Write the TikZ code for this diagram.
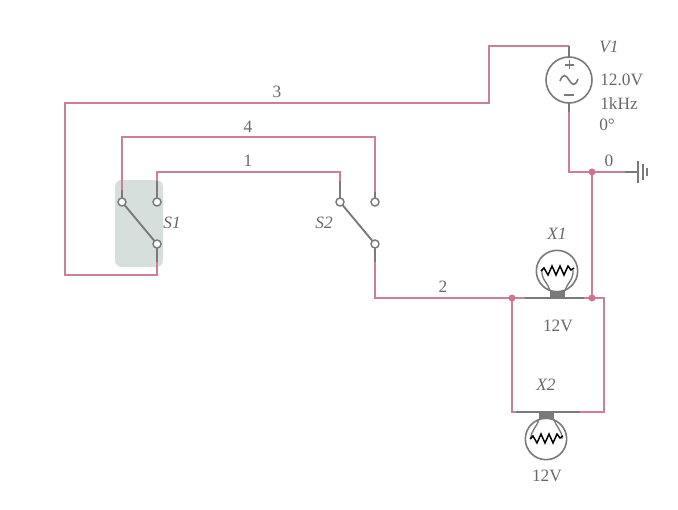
\documentclass[tikz,border=0pt]{standalone}
\usepackage{fontspec}
\setmainfont{Liberation Serif}
\definecolor{wirepink}{RGB}{203,128,150}
\definecolor{compgray}{RGB}{122,122,122}
\definecolor{labelgray}{RGB}{105,105,105}
\definecolor{panelgray}{RGB}{214,223,220}
\tikzset{
  wire/.style={draw=wirepink,line width=1.6pt},
  stub/.style={draw=compgray,line width=1.4pt},
  term/.style={circle,draw=compgray,line width=1.1pt,fill=white,inner sep=0pt,minimum size=6pt},
  junction/.style={circle,fill=wirepink!90!red,inner sep=0pt,minimum size=5.2pt},
  lamp/.style={circle,draw=compgray,line width=1.2pt,fill=white,inner sep=0pt,minimum size=31pt},
  source/.style={circle,draw=compgray,line width=1.2pt,fill=white,inner sep=0pt,minimum size=34.5pt},
  lbl/.style={text=labelgray,font=\fontsize{13pt}{15pt}\selectfont,inner sep=0pt},
  val/.style={lbl,anchor=west},
  ital/.style={lbl,font=\fontsize{13pt}{15pt}\selectfont\itshape},
  lampbase/.style={fill=compgray,draw=none,inner sep=0pt,minimum width=11.2pt,minimum height=5.2pt},
  filament/.style={draw=black,line width=1.1pt,line join=miter},
  leg/.style={draw=compgray,line width=1pt}
}
\begin{document}
\begin{tikzpicture}[x=0.75pt,y=-0.75pt]
\useasboundingbox (0,0) rectangle (678,510);
\fill[white] (0,0) rectangle (678,510);
% switch S1 panel
\fill[panelgray,rounded corners=5pt] (115,180) rectangle (163,267);
% corner coordinates
\coordinate (c3a) at (569,46);
\coordinate (c3b) at (489,46);
\coordinate (c3c) at (489,103);
\coordinate (c3d) at (65,103);
\coordinate (c3e) at (65,275);
\coordinate (c3f) at (157,275);
\coordinate (c4a) at (122,137);
\coordinate (c4b) at (375,137);
\coordinate (c1a) at (157,172);
\coordinate (c1b) at (340,172);
\coordinate (c2a) at (375,298);
\coordinate (c0a) at (569,172);
\coordinate (rtr) at (604,298);
\coordinate (rbr) at (604,412);
\coordinate (rbl) at (512,412);
\coordinate (gndw) at (638,172);
% terminal positions
\coordinate (ps1a) at (122,202);
\coordinate (ps1b) at (157,202);
\coordinate (ps1c) at (157,244);
\coordinate (ps2a) at (340,202);
\coordinate (ps2b) at (375,202);
\coordinate (ps2c) at (375,244);
% junctions
\coordinate (pj1) at (592,172);
\coordinate (pj2) at (592,298);
\coordinate (pj3) at (512,298);
% wires
\draw[wire] (c3a) -- (c3b) -- (c3c) -- (c3d) -- (c3e) -- (c3f) -- (ps1c);
\draw[wire] (ps1a) -- (c4a) -- (c4b) -- (ps2b);
\draw[wire] (ps1b) -- (c1a) -- (c1b) -- (ps2a);
\draw[wire] (ps2c) -- (c2a) -- (pj3) -- (pj2) -- (rtr) -- (rbr) -- (rbl) -- (pj3);
\draw[wire] (569,103) -- (c0a) -- (gndw);
\draw[wire] (pj1) -- (pj2);
% gray stubs
\draw[stub] (ps1c) -- (157,262);
\draw[stub] (ps1b) -- (157,181);
\draw[stub] (ps1a) -- (122,190);
\draw[stub] (ps2a) -- (340,181);
\draw[stub] (ps2c) -- (375,262);
\draw[stub] (ps2b) -- (375,192);
\draw[stub] (569,46) -- (569,60);
\draw[stub] (569,103) -- (569,112);
\draw[stub] (625,172) -- (638,172);
\draw[stub] (525,298) -- (584,298);
\draw[stub] (516,412) -- (580,412);
% switch arms
\draw[stub] (ps1a) -- (ps1c);
\draw[stub] (ps2a) -- (ps2c);
% terminals
\node[term] (s1a) at (ps1a) {};
\node[term] (s1b) at (ps1b) {};
\node[term] (s1c) at (ps1c) {};
\node[term] (s2a) at (ps2a) {};
\node[term] (s2b) at (ps2b) {};
\node[term] (s2c) at (ps2c) {};
% junction dots
\node[junction] (j1) at (pj1) {};
\node[junction] (j2) at (pj2) {};
\node[junction] (j3) at (pj3) {};
% source
\node[source] (v1) at (569,80) {};
\draw[compgray,line width=1.1pt] (565,65) -- (574,65) (569.5,60.5) -- (569.5,69.5);
\draw[compgray,line width=1.1pt] (564,95) -- (574,95);
\draw[compgray,line width=1.2pt] (560,81) .. controls (563,73) and (566,75) .. (569,80) .. controls (572,85) and (575,87) .. (578,79);
% ground
\node[inner sep=0pt,minimum size=0pt] (gnd) at (638,172) {};
\draw[compgray,line width=1.1pt] (638,161) -- (638,183);
\draw[compgray,line width=1.1pt] (643,164) -- (643,180);
\draw[compgray,line width=1pt] (647,168) -- (647,176);
% lamp X1
\node[lamp] (x1) at (557,271) {};
\node[lampbase] (x1b) at (557.5,294.5) {};
\draw[leg] (550,291) .. controls (549,284) and (541,280) .. (542,270);
\draw[leg] (565,291) .. controls (566,284) and (574,280) .. (573,270);
\draw[filament] (541,271) -- (544,268) -- (548,275) -- (552,266) -- (556,275) -- (560,266) -- (564,275) -- (568,266) -- (571,270) -- (574,268);
% lamp X2
\node[lamp] (x2) at (546,439) {};
\node[lampbase] (x2b) at (546.5,415.5) {};
\draw[leg] (539,419) .. controls (538,426) and (530,431) .. (531,439);
\draw[leg] (554,419) .. controls (555,426) and (563,431) .. (562,439);
\draw[filament] (530,439) -- (533,436) -- (537,443) -- (541,434) -- (545,443) -- (549,434) -- (553,443) -- (557,434) -- (560,438) -- (563,436);
% labels
\node[lbl] (n3) at (277,92) {3};
\node[lbl] (n4) at (248,127) {4};
\node[lbl] (n1) at (248,161) {1};
\node[lbl] (n2) at (443,287) {2};
\node[lbl] (n0) at (609,161) {0};
\node[ital] (lv1) at (609,47) {V1};
\node[val] (lv) at (600,80) {12.0V};
\node[val] (lf) at (600,103) {1kHz};
\node[val] (lp) at (599,125) {0°};
\node[ital] (ls1) at (172,223) {S1};
\node[ital] (ls2) at (324,223) {S2};
\node[ital] (lx1) at (557,234) {X1};
\node[ital] (lx2) at (546,385) {X2};
\node[lbl] (vx1) at (558,326) {12V};
\node[lbl] (vx2) at (547,476) {12V};
\end{tikzpicture}
\end{document}
